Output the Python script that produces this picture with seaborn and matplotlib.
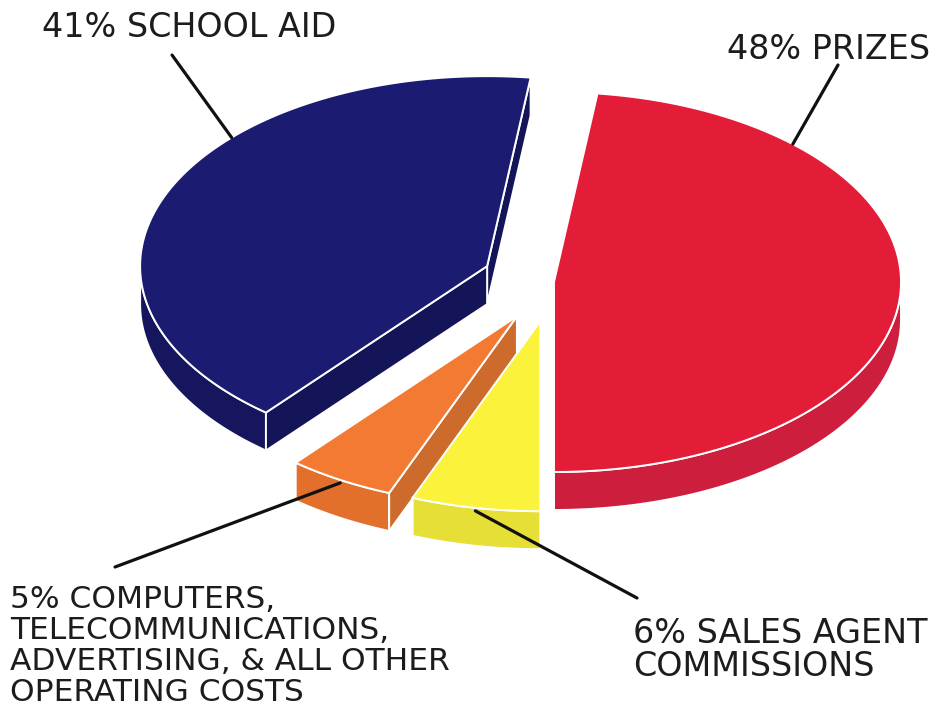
import numpy as np
import matplotlib
matplotlib.use("Agg")
import matplotlib.pyplot as plt
from matplotlib.patches import Polygon
import seaborn as sns

# ---- data ----
categories = ["PRIZES", "SCHOOL AID",
              "COMPUTERS,\nTELECOMMUNICATIONS,\nADVERTISING, & ALL OTHER\nOPERATING COSTS",
              "SALES AGENT\nCOMMISSIONS"]
shares = [48, 41, 5, 6]

# ---- styles / layout ----
top_colors = ["#e31c37", "#1b1b72", "#f27a32", "#fbf23c"]
side_colors = ["#cd1e3e", "#16165e", "#e2702c", "#e6df35"]
radial_colors = ["#b81a36", "#141458", "#cc6b2b", "#d8d232"]
explode = [0.0, 0.21, 0.21, 0.21]
start_angle = 270.0
center = (554.0, 282.0)
rx, ry, depth = 347.0, 190.0, 38.0
anchor_frac = [0.79, 0.37, 0.5, 0.5]          # where the leader line touches each slice
leader_ends = [(838, 65), (172, 55), (115, 567), (637, 598)]
label_pos = [(727, 33), (42, 11), (10, 585), (633, 617)]
label_sizes = [24, 24, 22.5, 24]
label_spacing = [1.0, 1.0, 1.08, 0.99]

sns.set_theme(style="white")
plt.rcParams["font.family"] = ["DejaVu Sans"]

fig = plt.figure(figsize=(9.5, 7.12), dpi=100)
ax = fig.add_axes([0, 0, 1, 1])
ax.set_xlim(0, 950)
ax.set_ylim(712, 0)
ax.axis("off")

total = float(sum(shares))
bounds = []
a = start_angle
for v in shares:
    span = 360.0 * v / total
    bounds.append((a, a + span))
    a += span


def pt(cx, cy, deg, dy=0.0):
    r = np.deg2rad(deg)
    return (cx + rx * np.cos(r), cy - ry * np.sin(r) + dy)


apexes = []
for (t1, t2), e in zip(bounds, explode):
    m = np.deg2rad((t1 + t2) / 2)
    apexes.append((center[0] + e * rx * np.cos(m), center[1] - e * ry * np.sin(m)))

order = [1, 0, 2, 3]  # back to front
ew = 1.4
for i in order:
    t1, t2 = bounds[i]
    cx, cy = apexes[i]
    # outer side (front half only)
    segs = []
    for base in (0, 360, -360):
        s = max(t1, 180 + base)
        f = min(t2, 360 + base)
        if f > s:
            segs.append((s, f))
    for s, f in segs:
        th = np.linspace(s, f, 120)
        topc = [pt(cx, cy, t) for t in th]
        botc = [pt(cx, cy, t, depth) for t in th[::-1]]
        ax.add_patch(Polygon(topc + botc, closed=True, facecolor=side_colors[i],
                             edgecolor="white", linewidth=ew, zorder=2))
    # radial faces
    for ang, visible in ((t1, np.cos(np.deg2rad(t1)) > 0.01),
                         (t2, np.cos(np.deg2rad(t2)) < -0.01)):
        if visible:
            p = pt(cx, cy, ang)
            quad = [(cx, cy), p, (p[0], p[1] + depth), (cx, cy + depth)]
            ax.add_patch(Polygon(quad, closed=True, facecolor=radial_colors[i],
                                 edgecolor="white", linewidth=ew, zorder=2))
    # top face
    th = np.linspace(t1, t2, 300)
    poly = [(cx, cy)] + [pt(cx, cy, t) for t in th]
    ax.add_patch(Polygon(poly, closed=True, facecolor=top_colors[i],
                         edgecolor="white", linewidth=ew, zorder=3))

# labels with leader lines
for i in range(len(shares)):
    t1, t2 = bounds[i]
    cx, cy = apexes[i]
    ang = t1 + anchor_frac[i] * (t2 - t1)
    anchor = pt(cx, cy, ang)
    if i >= 2:
        anchor = (anchor[0], anchor[1] + 3)
    ax.annotate("", xy=anchor, xytext=leader_ends[i],
                arrowprops=dict(arrowstyle="-", color="#111111", lw=2.3,
                                shrinkA=0, shrinkB=0), zorder=5)
    ax.text(label_pos[i][0], label_pos[i][1], f"{shares[i]}% {categories[i]}",
            fontsize=label_sizes[i], color="#1c1c1c", ha="left", va="top",
            linespacing=label_spacing[i], zorder=6)

fig.savefig("out.png", dpi=100, facecolor="white")
